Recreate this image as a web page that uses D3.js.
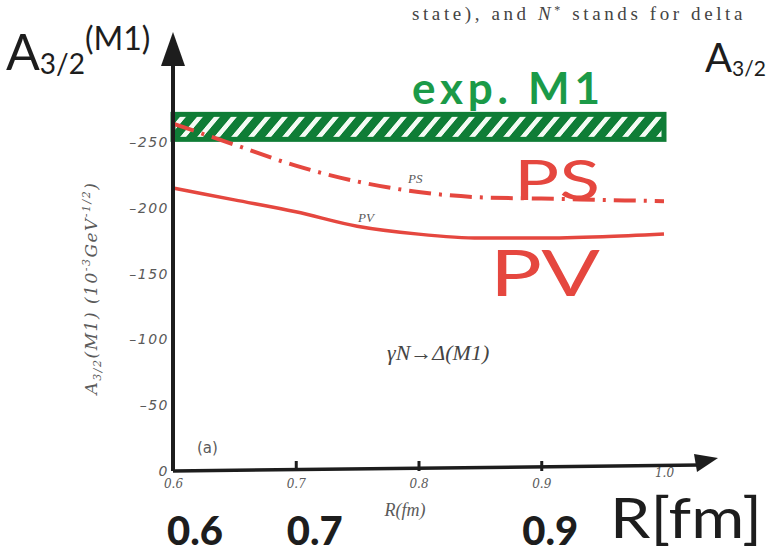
<!DOCTYPE html>
<html>
<head>
<meta charset="utf-8">
<script src="https://cdn.jsdelivr.net/npm/d3@7"></script>
<style>
  html, body { margin: 0; padding: 0; background: #fff; }
  svg { display: block; }
</style>
</head>
<body>
<svg id="chart"></svg>
<script>
// datos (A3/2(M1) frente a R)
const radii = [0.6, 0.65, 0.7, 0.75, 0.8, 0.85, 0.9, 0.95, 1.0];
const psValues = [-264, -248, -232, -220, -212, -208, -207, -206, -205];
const pvValues = [-215, -206, -197, -186, -180, -177, -177, -178, -180];
const expBand = { lo: -252, hi: -271 };
const xTicks = [0.6, 0.7, 0.8, 0.9, 1.0];
const yTicks = [0, -50, -100, -150, -200, -250];
const handXLabels = [["0.6", 0.6], ["0.7", 0.7], ["0.9", 0.9]];

(function() {
  const width = 768, height = 555;
  const svg = d3.select('#chart').attr('width', width).attr('height', height);

  const x = d3.scaleLinear().domain([0.6, 1.0]).range([173, 664]);
  const y = d3.scaleLinear().domain([0, -250]).range([471, 142]);

  const ink = '#1d1d1d';
  const red = '#e5473f';
  const green = '#0f7d36';
  const print = '#5a5a5a';

  // patrón rayado de la banda experimental
  const defs = svg.append('defs');
  const pat = defs.append('pattern')
    .attr('id', 'hatch').attr('patternUnits', 'userSpaceOnUse')
    .attr('width', 17).attr('height', 17)
    .attr('patternTransform', 'skewX(-40)');
  pat.append('rect').attr('width', 17).attr('height', 17).attr('fill', green);
  pat.append('rect').attr('x', 6).attr('width', 6).attr('height', 17).attr('fill', '#f4fbf4');

  // texto impreso arriba (cortado)
  svg.append('text').attr('x', 412).attr('y', 20)
    .attr('font-family', 'Liberation Serif, serif').attr('font-size', 19).attr('fill', '#444')
    .attr('letter-spacing', 3.6)
    .html('state), and <tspan font-style="italic">N</tspan><tspan dy="-6" font-size="12">*</tspan><tspan dy="6"> stands for delta</tspan>');

  // banda exp. M1
  svg.append('rect')
    .attr('x', x(0.6)).attr('y', y(expBand.hi))
    .attr('width', x(1.0) - x(0.6)).attr('height', y(expBand.lo) - y(expBand.hi))
    .attr('fill', 'url(#hatch)').attr('stroke', green).attr('stroke-width', 5);

  const line = d3.line().x((d, i) => x(radii[i])).y(d => y(d)).curve(d3.curveMonotoneX);

  // PS (discontinua)
  svg.append('path').datum(psValues).attr('d', line)
    .attr('fill', 'none').attr('stroke', red).attr('stroke-width', 4)
    .attr('stroke-dasharray', '22,8,3,8');

  // PV (continua)
  svg.append('path').datum(pvValues).attr('d', line)
    .attr('fill', 'none').attr('stroke', red).attr('stroke-width', 3.5);

  // ejes
  const xAxis = d3.axisBottom(x).tickValues(xTicks).tickSize(-10).tickPadding(8)
    .tickFormat(d3.format('.1f'));
  const gx = svg.append('g').attr('transform', `translate(0,${y(0)})`).call(xAxis);
  gx.select('.domain').remove();
  gx.selectAll('.tick line').attr('stroke', ink).attr('stroke-width', 3)
    .filter(d => d === 0.6 || d === 1.0).remove();
  gx.selectAll('.tick text').attr('font-family', 'DejaVu Serif, serif').attr('font-style', 'italic')
    .attr('font-size', 12).attr('fill', print);
  gx.selectAll('.tick').filter(d => d === 1.0).select('text').attr('dy', '-0.2em');

  const yAxis = d3.axisLeft(y).tickValues(yTicks).tickSize(0).tickPadding(4)
    .tickFormat(d => d === 0 ? '0' : '\u2013' + Math.abs(d));
  const gy = svg.append('g').attr('transform', `translate(${x(0.6)},0)`).call(yAxis);
  gy.select('.domain').remove();
  gy.selectAll('.tick text').attr('font-family', 'DejaVu Sans, sans-serif').attr('font-style', 'italic')
    .attr('font-size', 14).attr('letter-spacing', 1.5).attr('fill', print);

  // líneas de ejes dibujadas a mano con flechas
  svg.append('line').attr('x1', x(0.6)).attr('x2', 700).attr('y1', y(0)).attr('y2', y(0) - 6)
    .attr('stroke', ink).attr('stroke-width', 3.5);
  svg.append('path').attr('d', 'M694,454 L718,458 L697,472 Z').attr('fill', ink);
  svg.append('line').attr('x1', x(0.6)).attr('x2', x(0.6)).attr('y1', y(0)).attr('y2', 48)
    .attr('stroke', ink).attr('stroke-width', 4);
  svg.append('path').attr('d', `M${x(0.6) - 12},66 L${x(0.6)},32 L${x(0.6) + 12},66 Z`).attr('fill', ink);

  // etiqueta del eje y impresa (girada)
  svg.append('text')
    .attr('transform', 'translate(97,288) rotate(-90)')
    .attr('text-anchor', 'middle')
    .attr('font-family', 'DejaVu Serif, serif').attr('font-style', 'italic')
    .attr('font-size', 17).attr('letter-spacing', 1.5).attr('fill', print)
    .html('A<tspan font-size="11" dy="4">3/2</tspan><tspan dy="-4">(M1) (10</tspan><tspan font-size="11" dy="-7">-3</tspan><tspan dy="7">GeV</tspan><tspan font-size="11" dy="-7">-1/2</tspan><tspan dy="7">)</tspan>');

  // etiquetas impresas
  const serif = 'Liberation Serif, serif';
  svg.append('text').attr('x', 405).attr('y', 516).attr('font-family', serif).attr('font-style', 'italic')
    .attr('font-size', 18).attr('fill', print).attr('text-anchor', 'middle').text('R(fm)');
  svg.append('text').attr('x', 408).attr('y', 183).attr('font-family', serif).attr('font-style', 'italic')
    .attr('font-size', 13).attr('fill', print).text('PS');
  svg.append('text').attr('x', 358).attr('y', 222).attr('font-family', serif).attr('font-style', 'italic')
    .attr('font-size', 13).attr('fill', print).text('PV');
  svg.append('text').attr('x', 387).attr('y', 360).attr('font-family', serif).attr('font-style', 'italic')
    .attr('font-size', 22).attr('fill', '#444').text('\u03B3N\u2192\u0394(M1)');
  svg.append('text').attr('x', 197).attr('y', 453).attr('font-family', 'DejaVu Sans, sans-serif')
    .attr('font-size', 15).attr('fill', print).text('(a)');

  // anotaciones a mano
  const hand = 'Lato, sans-serif';
  svg.append('text').attr('x', 6).attr('y', 70).attr('font-family', hand).attr('font-weight', 400)
    .attr('font-size', 50).attr('fill', ink)
    .html('A<tspan font-size="28" dy="4">3/2</tspan><tspan font-size="32" dy="-24">(M1)</tspan>');
  svg.append('text').attr('x', 705).attr('y', 72).attr('font-family', hand).attr('font-weight', 400)
    .attr('font-size', 40).attr('fill', ink)
    .html('A<tspan font-size="21" dy="4">3/2</tspan>');
  svg.append('text').attr('x', 412).attr('y', 104).attr('font-family', hand).attr('font-weight', 700)
    .attr('font-size', 44).attr('fill', '#1b9a48')
    .attr('textLength', 188).attr('lengthAdjust', 'spacing').text('exp. M1');
  svg.append('text').attr('x', 514).attr('y', 200).attr('font-family', hand).attr('font-weight', 400)
    .attr('font-size', 56).attr('fill', red)
    .attr('textLength', 86).attr('lengthAdjust', 'spacingAndGlyphs').text('PS');
  svg.append('text').attr('x', 490).attr('y', 296).attr('font-family', hand).attr('font-weight', 400)
    .attr('font-size', 64).attr('fill', red)
    .attr('textLength', 110).attr('lengthAdjust', 'spacingAndGlyphs').text('PV');

  const nudge = { 0.6: 22, 0.7: 19, 0.9: 9 };
  handXLabels.forEach(([t, v]) => {
    svg.append('text').attr('x', x(v) + nudge[v]).attr('y', 545).attr('text-anchor', 'middle')
      .attr('font-family', hand).attr('font-weight', 900).attr('font-size', 40)
      .attr('fill', ink).text(t);
  });
  svg.append('text').attr('x', 610).attr('y', 538).attr('font-family', hand).attr('font-weight', 400)
    .attr('font-size', 56).attr('fill', ink)
    .attr('textLength', 152).attr('lengthAdjust', 'spacingAndGlyphs').text('R[fm]');
})();
</script>
</body>
</html>
